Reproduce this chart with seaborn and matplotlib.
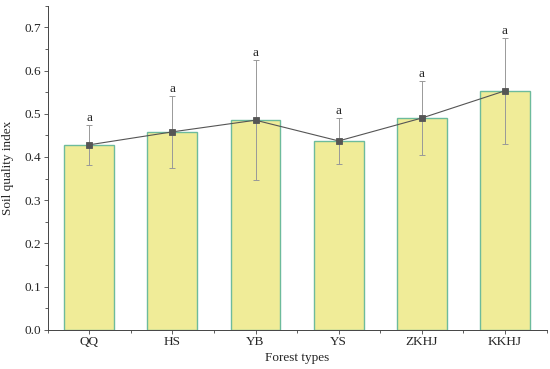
import pandas as pd
import numpy as np
import seaborn as sns
from matplotlib import pyplot as plt
from matplotlib.ticker import MultipleLocator, FixedLocator

# data
forest_types = ['QQ', 'HS', 'YB', 'YS', 'ZKHJ', 'KKHJ']
sqi_mean = [0.428, 0.458, 0.485, 0.437, 0.490, 0.553]
sqi_sd = [0.046, 0.083, 0.139, 0.053, 0.086, 0.123]
sig_letters = ['a', 'a', 'a', 'a', 'a', 'a']

df = pd.DataFrame({'forest': forest_types, 'sqi': sqi_mean, 'sd': sqi_sd})

sns.set_style('ticks')
plt.rcParams['font.family'] = ['Liberation Serif', 'DejaVu Serif']

fig = plt.figure(figsize=(5.5, 3.69), dpi=100)
ax = fig.add_axes([0.0867, 0.1065, 0.907, 0.878])

sns.barplot(data=df, x='forest', y='sqi', color='#F0EC98', edgecolor='#6DBB9C',
            linewidth=1.0, width=0.6, saturation=1, errorbar=None, ax=ax)

x = np.arange(len(forest_types))
ax.errorbar(x, df['sqi'], yerr=df['sd'], fmt='none', ecolor='#999999',
            elinewidth=0.7, capsize=2.5, capthick=0.7, zorder=3)

sns.pointplot(data=df, x='forest', y='sqi', color='#555555', markers='s',
              linewidth=0.8, markersize=4, errorbar=None, ax=ax, zorder=4)

# significance letters
for i, (m, s, lab) in enumerate(zip(sqi_mean, sqi_sd, sig_letters)):
    ax.text(i, m + s + 0.002, lab, ha='center', va='bottom', fontsize=9.5)

ax.set_xlim(-0.5, 5.5)
ax.set_ylim(0, 0.75)
ax.yaxis.set_major_locator(MultipleLocator(0.1))
ax.yaxis.set_minor_locator(MultipleLocator(0.05))
ax.xaxis.set_minor_locator(FixedLocator(np.arange(-0.5, 6, 1.0)))
ax.tick_params(axis='both', which='major', labelsize=9.5, length=3, width=0.6,
               pad=1.5, color='#444444')
ax.tick_params(axis='both', which='minor', length=2, width=0.6, color='#444444')
for side in ['left', 'bottom']:
    ax.spines[side].set_linewidth(0.7)
    ax.spines[side].set_color('#444444')
sns.despine(ax=ax)

ax.set_xlabel('Forest types', fontsize=9.5, labelpad=3)
ax.set_ylabel('Soil quality index', fontsize=9.5, labelpad=8)

plt.savefig('out.png', dpi=100)
